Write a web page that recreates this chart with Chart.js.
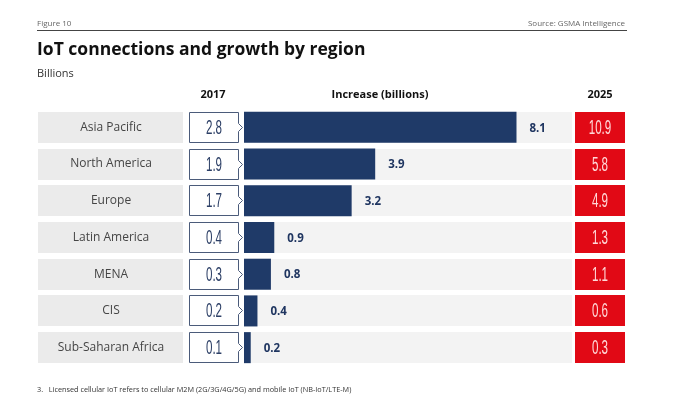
<!DOCTYPE html>
<html>
<head>
<meta charset="utf-8">
<script src="https://cdn.jsdelivr.net/npm/chart.js@4/dist/chart.umd.min.js"></script>
<style>
  body { margin: 0; background: #fff; font-family: "Open Sans", sans-serif; }
  #wrap { position: relative; width: 680px; height: 407px; }
  canvas { position: absolute; left: 0; top: 0; }
  .t { position: absolute; white-space: nowrap; }
  #fig { left: 37px; top: 17px; font-size: 8px; color: #666; }
  #src { right: 55px; top: 17px; font-size: 8px; color: #666; }
  #rule { position: absolute; left: 37px; top: 30px; width: 590px; height: 1px; background: #444; }
  #title { left: 37px; top: 36px; font-size: 17.5px; font-weight: bold; color: #111; }
  #unit { left: 37px; top: 65px; font-size: 11px; color: #333; }
  #note { left: 37px; top: 384px; font-size: 7.3px; color: #333; }
</style>
</head>
<body>
<div id="wrap">
  <canvas id="chart" width="680" height="407"></canvas>
  <div class="t" id="fig">Figure 10</div>
  <div class="t" id="src">Source: GSMA Intelligence</div>
  <div id="rule"></div>
  <div class="t" id="title">IoT connections and growth by region</div>
  <div class="t" id="unit">Billions</div>
  <div class="t" id="note">3.&nbsp;&nbsp;&nbsp;Licensed cellular IoT refers to cellular M2M (2G/3G/4G/5G) and mobile IoT (NB-IoT/LTE-M)</div>
</div>
<script>
// data
const regions = ["Asia Pacific", "North America", "Europe", "Latin America", "MENA", "CIS", "Sub-Saharan Africa"];
const conn2017 = [2.8, 1.9, 1.7, 0.4, 0.3, 0.2, 0.1];
const increase = [8.1, 3.9, 3.2, 0.9, 0.8, 0.4, 0.2];
const conn2025 = [10.9, 5.8, 4.9, 1.3, 1.1, 0.6, 0.3];
const headers = ["2017", "Increase (billions)", "2025"];

const NAVY = "#1f3a68";
const RED = "#e10915";

// condensed numbers (squeeze horizontally)
function narrowText(ctx, txt, cx, cy, color) {
    ctx.save();
    ctx.translate(cx, cy);
    ctx.scale(0.58, 1);
    ctx.font = "20px 'Liberation Sans'";
    ctx.fillStyle = color;
    ctx.textAlign = "center";
    ctx.textBaseline = "middle";
    ctx.fillText(txt, 0, 1);
    ctx.restore();
}

const tablePlugin = {
    id: "table",
    beforeDatasetsDraw(chart) {
        const { ctx, chartArea, scales: { y } } = chart;
        const h = 31;
        ctx.save();
        regions.forEach((r, i) => {
            const cy = y.getPixelForValue(i);
            const top = Math.round(cy - h / 2);
            // label cell
            ctx.fillStyle = "#ebebeb";
            ctx.fillRect(38, top, 145, h);
            // bar background
            ctx.fillStyle = "#f3f3f3";
            ctx.fillRect(chartArea.left, top, chartArea.right - chartArea.left, h);
            // 2025 red cell
            ctx.fillStyle = RED;
            ctx.fillRect(575, top, 50, h);
        });
        ctx.restore();
    },
    afterDatasetsDraw(chart) {
        const { ctx, scales: { y } } = chart;
        const meta = chart.getDatasetMeta(0);
        const h = 31;
        ctx.save();

        // column headers
        ctx.font = "bold 11px 'Open Sans'";
        ctx.fillStyle = "#111";
        ctx.textAlign = "center";
        ctx.textBaseline = "middle";
        ctx.fillText(headers[0], 213, 95);
        ctx.fillText(headers[1], 380, 95);
        ctx.fillText(headers[2], 600, 95);

        regions.forEach((r, i) => {
            const cy = y.getPixelForValue(i);
            const top = Math.round(cy - h / 2) + 0.5;
            const bot = top + h - 1;
            const mid = (top + bot) / 2;

            // region label
            ctx.font = "12px 'Open Sans'";
            ctx.fillStyle = "#454545";
            ctx.textAlign = "center";
            ctx.textBaseline = "middle";
            ctx.fillText(r, 111, cy);

            // 2017 box with chevron
            ctx.beginPath();
            ctx.moveTo(189.5, top);
            ctx.lineTo(238.5, top);
            ctx.lineTo(238.5, mid - 4);
            ctx.lineTo(242.5, mid);
            ctx.lineTo(238.5, mid + 4);
            ctx.lineTo(238.5, bot);
            ctx.lineTo(189.5, bot);
            ctx.closePath();
            ctx.fillStyle = "#fff";
            ctx.fill();
            ctx.strokeStyle = "#4b5b7a";
            ctx.lineWidth = 1;
            ctx.stroke();
            narrowText(ctx, conn2017[i].toFixed(1), 214, cy, "#2c3f66");

            // increase value
            const bar = meta.data[i];
            ctx.font = "bold 11.5px 'Open Sans'";
            ctx.fillStyle = "#1f3560";
            ctx.textAlign = "left";
            ctx.textBaseline = "middle";
            ctx.fillText(increase[i].toFixed(1), bar.x + 13, cy + 1);

            // 2025 value
            narrowText(ctx, conn2025[i].toFixed(1), 600, cy, "#ffd9d9");
        });
        ctx.restore();
    }
};

new Chart(document.getElementById("chart"), {
    type: "bar",
    data: {
        labels: regions,
        datasets: [{
            data: increase,
            backgroundColor: NAVY,
            barPercentage: 0.845,
            categoryPercentage: 1
        }]
    },
    options: {
        indexAxis: "y",
        responsive: false,
        animation: false,
        layout: { padding: { left: 244, right: 108, top: 109, bottom: 41 } },
        scales: {
            x: { display: false, min: 0, max: 9.75 },
            y: { display: false }
        },
        plugins: { legend: { display: false }, tooltip: { enabled: false } }
    },
    plugins: [tablePlugin]
});
</script>
</body>
</html>
